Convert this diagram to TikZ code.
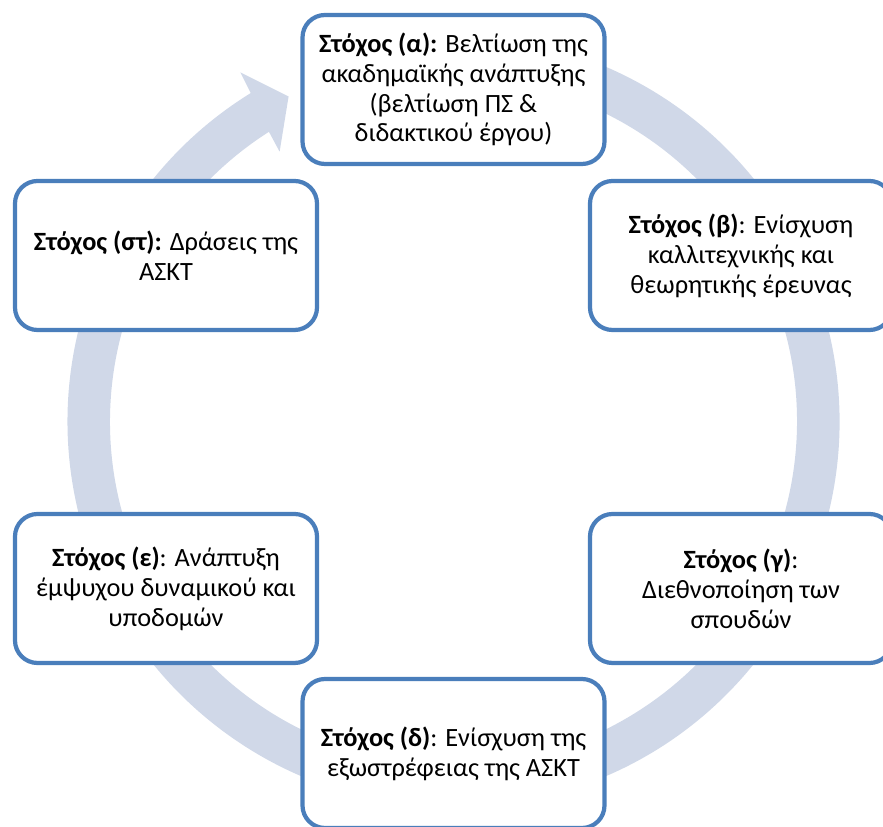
\documentclass[tikz,border=0pt]{standalone}
\usepackage{fontspec}
\setmainfont{Carlito}
\usetikzlibrary{calc}
\definecolor{goalline}{HTML}{4A7EBB}
\definecolor{ringfill}{HTML}{D0D8E8}
\tikzset{goal/.style={ % Sets the properties for each goal box
            draw=goalline,
            line width=2.4pt,
            fill=white,
            rounded corners=0.45cm,
            minimum width=6.04cm,
            minimum height=2.98cm,
            align=center,
            font=\fontsize{15}{17}\selectfont},
        ring/.style={ % Circular arrow behind the boxes
            fill=ringfill}
        }
\begin{document}
\begin{tikzpicture}
    \useasboundingbox (0,0) rectangle (17.66,16.54);
    \clip (0,0) rectangle (17.66,16.54);
    \coordinate (ctr) at (9.07,8.11);

    \fill[ring] ($(ctr)+(105:7.72)$) arc[start angle=105, end angle=-238.3, radius=7.72cm]
        -- ($(ctr)+(121.4:8.18)$) -- ($(ctr)+(116.9:7.29)$) -- ($(ctr)+(122.8:6.42)$)
        -- ($(ctr)+(122.5:6.87)$) arc[start angle=-237.5, end angle=105, radius=6.87cm] -- cycle;

    \node[goal] (a) at (9.07,14.75)  {\textbf{Στόχος (α):} Βελτίωση της\\ακαδημαϊκής ανάπτυξης\\(βελτίωση ΠΣ \&\\διδακτικού έργου)};
    \node[goal] (b) at (14.82,11.43) {\textbf{Στόχος (β)}: Ενίσχυση\\καλλιτεχνικής και\\θεωρητικής έρευνας};
    \node[goal] (c) at (14.82,4.77)  {\textbf{Στόχος (γ)}:\\Διεθνοποίηση των\\σπουδών};
    \node[goal] (d) at (9.07,1.47)   {\textbf{Στόχος (δ)}: Ενίσχυση της\\εξωστρέφειας της ΑΣΚΤ};
    \node[goal] (e) at (3.32,4.77)   {\textbf{Στόχος (ε)}: Ανάπτυξη\\έμψυχου δυναμικού και\\υποδομών};
    \node[goal] (f) at (3.32,11.43)  {\textbf{Στόχος (στ):} Δράσεις της\\ΑΣΚΤ};
\end{tikzpicture}
\end{document}
